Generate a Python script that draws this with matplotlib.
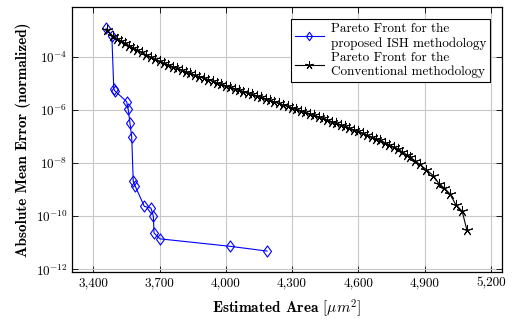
import numpy as np
import matplotlib
matplotlib.use("Agg")
import matplotlib.pyplot as plt
from matplotlib.ticker import FuncFormatter, NullLocator
from matplotlib.path import Path

# Pareto front, proposed ISH methodology (area, log10 error)
ish_area = [3458, 3484, 3493, 3497, 3551, 3558, 3566, 3574, 3581, 3589,
            3631, 3661, 3672, 3675, 3702, 4019, 4187]
ish_logerr = [-2.94, -3.22, -5.22, -5.28, -5.69, -5.97, -6.48, -7.02, -8.69, -8.85,
              -9.63, -9.69, -10.00, -10.63, -10.85, -11.13, -11.31]

# Pareto front, conventional methodology (area, log10 error)
conv_area = [3462, 3490, 3508, 3527, 3545, 3563, 3582, 3600, 3620, 3640,
             3660, 3680, 3700, 3720, 3740, 3760, 3780, 3800, 3820, 3840,
             3860, 3880, 3900, 3920, 3940, 3960, 3980, 4000, 4020, 4040,
             4060, 4080, 4100, 4120, 4140, 4160, 4180, 4200, 4220, 4240,
             4260, 4280, 4300, 4320, 4340, 4360, 4380, 4400, 4420, 4440,
             4460, 4480, 4500, 4520, 4540, 4560, 4580, 4600, 4620, 4640,
             4660, 4680, 4700, 4720, 4740, 4760, 4780, 4800, 4820, 4836,
             4856, 4878, 4908, 4939, 4966, 4988, 5014, 5041, 5070, 5092]
conv_logerr = [-2.99, -3.24, -3.33, -3.41, -3.50, -3.58, -3.67, -3.75, -3.84, -3.93,
               -4.01, -4.10, -4.18, -4.24, -4.31, -4.37, -4.43, -4.50, -4.56, -4.63,
               -4.69, -4.75, -4.80, -4.86, -4.92, -4.98, -5.03, -5.09, -5.14, -5.20,
               -5.25, -5.31, -5.36, -5.42, -5.47, -5.52, -5.58, -5.64, -5.70, -5.76,
               -5.82, -5.87, -5.93, -5.97, -6.03, -6.09, -6.15, -6.21, -6.26, -6.32,
               -6.38, -6.44, -6.50, -6.56, -6.62, -6.69, -6.75, -6.81, -6.88, -6.95,
               -7.02, -7.08, -7.15, -7.23, -7.31, -7.40, -7.48, -7.58, -7.69, -7.78,
               -7.91, -8.05, -8.25, -8.47, -8.78, -8.93, -9.15, -9.56, -9.81, -10.53]

x_ticks = [3400, 3700, 4000, 4300, 4600, 4900, 5200]
y_ticks = [1e-12, 1e-10, 1e-8, 1e-6, 1e-4]

plt.rcParams['font.family'] = 'serif'
plt.rcParams['font.serif'] = ['cmr10']
plt.rcParams['mathtext.fontset'] = 'cm'
plt.rcParams['axes.unicode_minus'] = False
plt.rcParams['axes.formatter.use_mathtext'] = True

# pgfplots-style diamond (taller than wide)
diamond = Path([(0, 1), (0.72, 0), (0, -1), (-0.72, 0), (0, 1)],
               [Path.MOVETO, Path.LINETO, Path.LINETO, Path.LINETO, Path.CLOSEPOLY])

fig = plt.figure(figsize=(5.19, 3.22), dpi=100)
ax = fig.add_axes([0.1393, 0.155, 0.8277, 0.823])

ax.plot(ish_area, 10.0 ** np.array(ish_logerr), color='blue', lw=0.8,
        marker=diamond, ms=8, mfc='none', mec='blue', mew=0.8,
        label='Pareto Front for the\nproposed ISH methodology')
ax.plot(conv_area, 10.0 ** np.array(conv_logerr), color='black', lw=0.8,
        marker=(5, 2, 0), ms=8, mew=0.7,
        label='Pareto Front for the\nConventional methodology')

ax.set_yscale('log')
ax.set_xlim(3305, 5250)
ax.set_ylim(10 ** -12.1, 10 ** -2.135)
ax.set_xticks(x_ticks)
ax.xaxis.set_major_formatter(FuncFormatter(lambda v, p: f"{v:,.0f}"))
ax.set_yticks(y_ticks)
ax.yaxis.set_minor_locator(NullLocator())
ax.tick_params(direction='in', top=True, right=True, labelsize=9.5, length=4, width=0.6)
ax.grid(True, color='#c8c8c8', lw=0.8)
ax.set_axisbelow(True)
for s in ax.spines.values():
    s.set_linewidth(0.9)

ax.set_xlabel(r'Estimated Area $[\mu m^2]$', fontsize=11, family='cmb10', labelpad=6)
ax.set_ylabel('Absolute Mean Error (normalized)', fontsize=11, family='cmb10', labelpad=3)

leg = ax.legend(loc='upper right', fontsize=9.5, frameon=True, fancybox=False,
                edgecolor='black', framealpha=1, handlelength=2.2, borderpad=0.3,
                labelspacing=0.15, handletextpad=0.5, borderaxespad=0.9,
                markerscale=0.75)
leg.get_frame().set_linewidth(0.8)

fig.savefig('out.png', dpi=100)
